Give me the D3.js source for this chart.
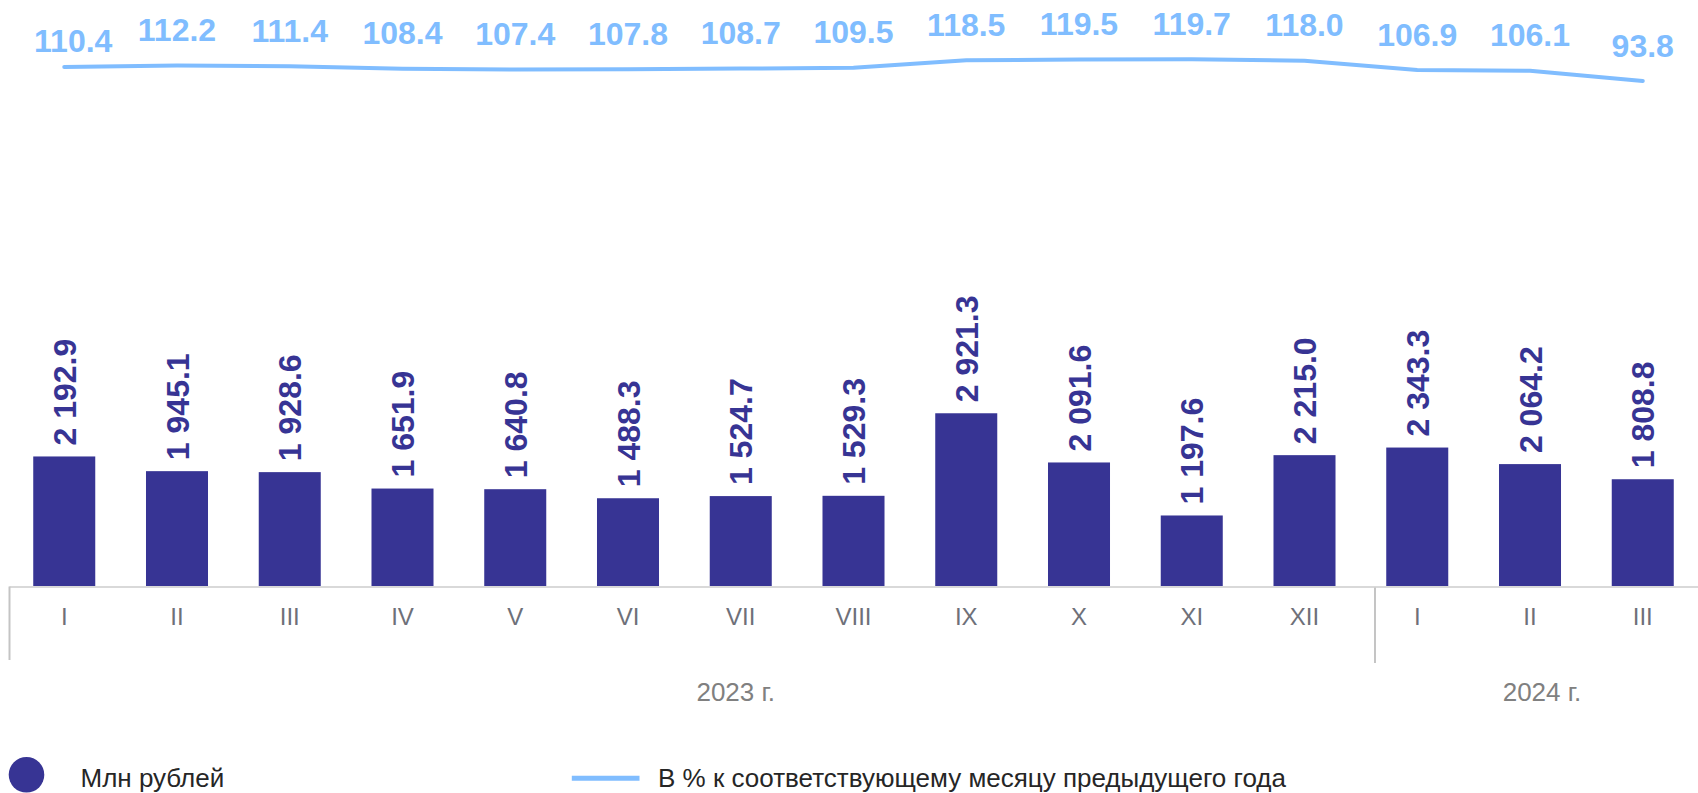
<!DOCTYPE html>
<html>
<head>
<meta charset="utf-8">
<script src="https://cdn.jsdelivr.net/npm/d3@7"></script>
<style>
  html, body { margin: 0; padding: 0; background: #ffffff; }
  svg { display: block; font-family: "Liberation Sans", Arial, sans-serif; }
</style>
</head>
<body>
<svg id="chart" width="1698" height="793"></svg>
<script>
// ---- data ----
const months = ["I","II","III","IV","V","VI","VII","VIII","IX","X","XI","XII","I","II","III"];
const years = [2023,2023,2023,2023,2023,2023,2023,2023,2023,2023,2023,2023,2024,2024,2024];
const yearLabels = ["2023 г.", "2024 г."];
const valuesMln = [2192.9,1945.1,1928.6,1651.9,1640.8,1488.3,1524.7,1529.3,2921.3,2091.6,1197.6,2215.0,2343.3,2064.2,1808.8];
const pctPrevYear = [110.4,112.2,111.4,108.4,107.4,107.8,108.7,109.5,118.5,119.5,119.7,118.0,106.9,106.1,93.8];
const legendBar = "Млн рублей";
const legendLine = "В % к соответствующему месяцу предыдущего года";

// ---- styles ----
const barColor = "#373494";
const lineColor = "#80bdff";
const axisColor = "#d9d9d9";
const sepColor = "#c4c4c4";
const monthColor = "#6e7079";
const yearColor = "#808080";
const textColor = "#262626";

const svg = d3.select("#chart");
const idx = d3.range(months.length);

const x = d3.scaleBand().domain(idx).range([9, 1698]).paddingInner(0.45).paddingOuter(0.215);
const cx = i => x(i) + x.bandwidth() / 2;

const yBar = d3.scaleLinear().domain([0, 3000]).range([586.5, 408.6]);
const yLine = d3.scaleLinear().domain([0, 120]).range([159.6, 59.05]);

const fmt = d3.formatLocale({decimal: ".", thousands: "\u00a0", grouping: [3]}).format(",.1f");
const fmtPct = d3.format(".1f");

// ---- bars ----
svg.append("g").selectAll("rect").data(idx).join("rect")
  .attr("x", i => x(i))
  .attr("width", x.bandwidth())
  .attr("y", i => yBar(valuesMln[i]))
  .attr("height", i => yBar(0) - yBar(valuesMln[i]))
  .attr("fill", barColor);

// ---- bar labels (rotated) ----
svg.append("g").selectAll("text").data(idx).join("text")
  .attr("transform", i => `translate(${cx(i)},${yBar(valuesMln[i]) - 11}) rotate(-90)`)
  .attr("dy", "0.36em")
  .attr("text-anchor", "start")
  .attr("font-size", 32)
  .attr("font-weight", "bold")
  .attr("fill", barColor)
  .text(i => fmt(valuesMln[i]));

// ---- x axis ----
const axis = svg.append("g")
  .attr("transform", `translate(0,${yBar(0)})`)
  .call(d3.axisBottom(x).tickSize(0).tickSizeOuter(0).tickPadding(21).tickFormat(i => months[i]));
axis.select(".domain").attr("stroke", axisColor).attr("stroke-width", 2);
axis.selectAll(".tick text")
  .attr("font-size", 24)
  .attr("font-family", "\"Liberation Sans\", Arial, sans-serif")
  .attr("fill", monthColor);

// ---- group separators ----
const firstOfYear = yearLabels.map((_, g) => years.indexOf(years[0] + g));
svg.append("line")
  .attr("x1", x.range()[0] + 0.5).attr("x2", x.range()[0] + 0.5)
  .attr("y1", yBar(0)).attr("y2", 660)
  .attr("stroke", sepColor).attr("stroke-width", 2);
firstOfYear.slice(1).forEach(i => {
  const sx = x(i) - x.step() * 0.1;
  svg.append("line")
    .attr("x1", sx).attr("x2", sx)
    .attr("y1", yBar(0) + 1).attr("y2", 663)
    .attr("stroke", sepColor).attr("stroke-width", 2);
});

// ---- year labels ----
yearLabels.forEach((lab, g) => {
  const members = idx.filter(i => years[i] === years[0] + g);
  const mid = members[Math.floor(members.length / 2)];
  svg.append("text")
    .attr("x", cx(mid) + (g === 0 ? -5 : 12))
    .attr("y", 700.7)
    .attr("text-anchor", "middle")
    .attr("font-size", 26)
    .attr("fill", yearColor)
    .text(lab);
});

// ---- line ----
const line = d3.line().x(i => cx(i)).y(i => yLine(pctPrevYear[i]));
svg.append("path")
  .datum(idx)
  .attr("d", line)
  .attr("fill", "none")
  .attr("stroke", lineColor)
  .attr("stroke-width", 4)
  .attr("stroke-linecap", "round")
  .attr("stroke-linejoin", "round");

svg.append("g").selectAll("text").data(idx).join("text")
  .attr("x", i => cx(i) + (i === 0 ? 9 : 0))
  .attr("y", i => yLine(pctPrevYear[i]) - (i === 0 ? 15 : 24.5))
  .attr("text-anchor", "middle")
  .attr("font-size", 32)
  .attr("font-weight", "bold")
  .attr("fill", lineColor)
  .text(i => fmtPct(pctPrevYear[i]));

// ---- legend ----
const leg = svg.append("g");
leg.append("circle").attr("cx", 26.5).attr("cy", 774.8).attr("r", 17.8).attr("fill", barColor);
leg.append("text").attr("x", 80.5).attr("y", 786.5).attr("font-size", 26).attr("fill", textColor).text(legendBar);
leg.append("line").attr("x1", 571.8).attr("x2", 639.5).attr("y1", 778.3).attr("y2", 778.3)
  .attr("stroke", lineColor).attr("stroke-width", 5);
leg.append("text").attr("x", 658).attr("y", 786.5).attr("font-size", 26).attr("fill", textColor).text(legendLine);
</script>
</body>
</html>
